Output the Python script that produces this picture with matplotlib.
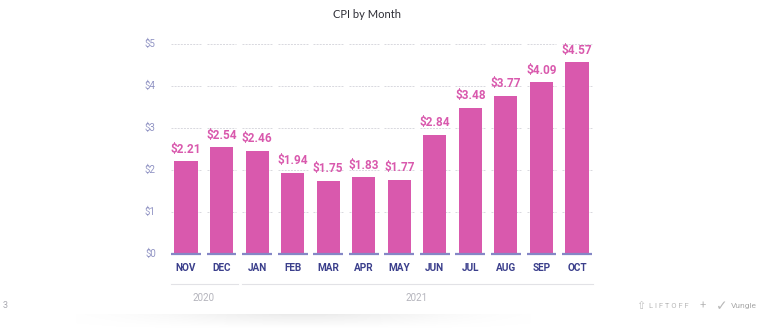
import numpy as np
import matplotlib.pyplot as plt

months = ["NOV", "DEC", "JAN", "FEB", "MAR", "APR", "MAY", "JUN", "JUL", "AUG", "SEP", "OCT"]
cpi = [2.21, 2.54, 2.46, 1.94, 1.75, 1.83, 1.77, 2.84, 3.48, 3.77, 4.09, 4.57]
years = ["2020", "2021"]
year_spans = [(0, 1), (2, 11)]
yticks = [0, 1, 2, 3, 4, 5]

plt.rcParams['font.family'] = ['Roboto', 'DejaVu Sans']

W, H = 758, 328
fig = plt.figure(figsize=(W / 100, H / 100), dpi=100)
fig.patch.set_facecolor('white')

# axes placed so that category i sits at 186 + 35.5*i px
left_px, right_px = 168.25, 594.75
bot_px, top_px = 254, 44
ax = fig.add_axes([left_px / W, 1 - bot_px / H, (right_px - left_px) / W, (bot_px - top_px) / H])
ax.set_xlim(-0.5, len(months) - 0.5)
ax.set_ylim(0, 5)
ax.axis('off')

pink = '#d959ad'
x = np.arange(len(months))

# segmented dotted gridlines, one piece per category
seg = 0.42
for y in yticks[1:]:
    for xi in x:
        ax.plot([xi - seg, xi + seg], [y, y], color='#d8d8de', lw=0.7,
                linestyle=(0, (2, 1.2)), zorder=1)

ax.bar(x, cpi, width=0.65, color=pink, zorder=2)

# baseline pieces
for xi in x:
    ax.plot([xi - seg, xi + seg], [0, 0], color='#8587c6', lw=1.6,
            solid_capstyle='butt', zorder=3, clip_on=False)

for xi, v in zip(x, cpi):
    ax.annotate(f"${v:.2f}", (xi, v), xytext=(0, 4), textcoords='offset points',
                ha='center', va='bottom', fontsize=8.5, fontweight='bold', color=pink)

for y in yticks:
    ax.annotate(f"${y}", (-0.5, y), xytext=(-9, 0), textcoords='offset points',
                ha='right', va='center', fontsize=7, color='#9194c4',
                annotation_clip=False)

for xi, m in zip(x, months):
    ax.annotate(m, (xi, 0), xytext=(0, -10), textcoords='offset points',
                ha='center', va='center', fontsize=7.2, fontweight='bold',
                color='#3b3f8c', annotation_clip=False)

# year grouping lines and labels
for (a, b), yr in zip(year_spans, years):
    line_y = -30 / 42
    ax.plot([a - 0.42, b + 0.45], [line_y, line_y], color='#e2e2e6', lw=0.8, clip_on=False)
    ax.text((a + b) / 2, -44 / 42, yr, ha='center', va='center', fontsize=7,
            color='#b4b4bc', clip_on=False)

fig.text(367 / W, 1 - 15 / H, "CPI by Month", ha='center', va='center',
         fontsize=8, color='#2d2d35', family=['Lato', 'DejaVu Sans'])

fig.text(3 / W, 1 - 305 / H, "3", ha='left', va='center', fontsize=6.5, color='#a8a8b0')

# footer logos
fig.text(641 / W, 1 - 306 / H, "⇧", ha='center', va='center', fontsize=8,
         color='#c0c0c0', family=['DejaVu Sans'])
fig.text(649 / W, 1 - 306 / H, "L I F T O F F", ha='left', va='center', fontsize=5.5,
         color='#b8b8b8')
fig.text(703 / W, 1 - 306 / H, "+", ha='center', va='center', fontsize=8, color='#b8b8b8')
fig.text(722 / W, 1 - 306 / H, "✓", ha='center', va='center', fontsize=10, color='#b8b8b8',
         family=['DejaVu Sans'])
fig.text(731 / W, 1 - 306 / H, "Vungle", ha='left', va='center', fontsize=6,
         color='#a8a8a8')

# soft shadow along the bottom edge
sh = fig.add_axes([0.1, 0, 0.6, 14 / H])
grad = np.linspace(0, 1, 40)[:, None] * np.exp(-((np.linspace(-1, 1, 200) / 0.6) ** 2))[None, :]
sh.imshow(grad, cmap='Greys', vmin=0, vmax=6, aspect='auto', origin='lower',
          extent=[0, 1, 0, 1])
sh.axis('off')

fig.savefig('out.png', dpi=100, facecolor='white')
